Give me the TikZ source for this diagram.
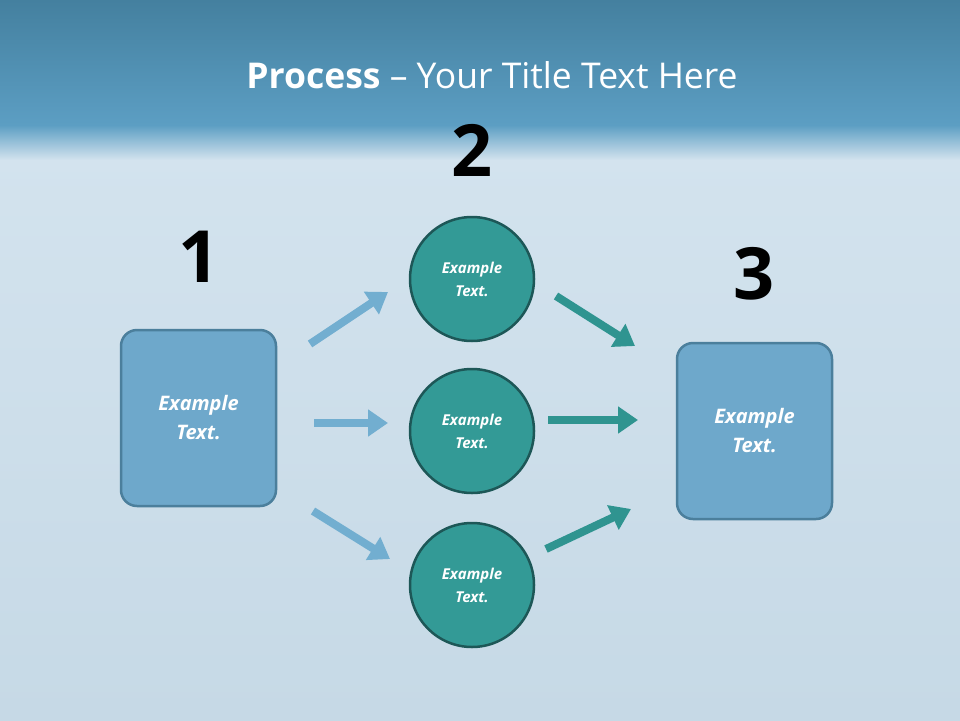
\documentclass[tikz,border=0pt]{standalone}
\usepackage{fontspec}
\setmainfont{Open Sans}
\usetikzlibrary{arrows.meta}
\definecolor{topa}{HTML}{44809F}
\definecolor{topb}{HTML}{5C9EC3}
\definecolor{bga}{HTML}{D3E3EE}
\definecolor{bgb}{HTML}{C6D9E6}
\definecolor{boxf}{HTML}{6EA8CB}
\definecolor{boxd}{HTML}{4B7F9C}
\definecolor{circf}{HTML}{339A96}
\definecolor{circd}{HTML}{1D5757}
\definecolor{arl}{HTML}{72AED0}
\definecolor{art}{HTML}{2F9490}
\tikzset{
 sq/.style={draw=boxd,line width=2.5pt,fill=boxf,rounded corners=16pt,minimum width=155pt,minimum height=176pt,text=white,align=center,font=\fontsize{20}{29}\selectfont\bfseries\itshape},
 circ/.style={circle,draw=circd,line width=2.5pt,fill=circf,minimum size=124pt,text=white,align=center,font=\fontsize{15}{23}\selectfont\bfseries\itshape},
 num/.style={font=\fontsize{72}{72}\selectfont\bfseries,text=black},
 ar/.style={line width=8pt,-{Triangle[length=20pt,width=26pt]}},
}
\begin{document}
\begin{tikzpicture}[x=1pt,y=-1pt]
\useasboundingbox (0,0) rectangle (960,720);
\fill[bga] (0,0) rectangle (960,720);
\shade[top color=bga,bottom color=bgb] (0,150) rectangle (960,720);
\shade[top color=topa,bottom color=topb] (0,0) rectangle (960,125);
\shade[top color=topb,bottom color=bga] (0,125) rectangle (960,160);
\node[text=white,font=\fontsize{35.5}{40}\selectfont] (title) at (492,75) {\textbf{Process} – Your Title Text Here};
\node[num] (n2) at (472,150) {2};
\node[num] (n1) at (199,257) {1};
\node[num] (n3) at (754,274) {3};
\node[sq] (b1) at (198.5,418) {Example\\Text.};
\node[sq] (b3) at (754.5,431) {Example\\Text.};
\node[circ] (c1) at (472,279) {Example\\Text.};
\node[circ] (c2) at (472,431) {Example\\Text.};
\node[circ] (c3) at (472,585) {Example\\Text.};
\coordinate (a1s) at (310,344); \coordinate (a1e) at (388,292);
\coordinate (a2s) at (314,423); \coordinate (a2e) at (388,423);
\coordinate (a3s) at (313,511); \coordinate (a3e) at (390,559);
\coordinate (a4s) at (556,296); \coordinate (a4e) at (635,346);
\coordinate (a5s) at (548,420); \coordinate (a5e) at (638,420);
\coordinate (a6s) at (546,549); \coordinate (a6e) at (631,509);
\draw[ar,arl] (a1s) -- (a1e);
\draw[ar,arl] (a2s) -- (a2e);
\draw[ar,arl] (a3s) -- (a3e);
\draw[ar,art] (a4s) -- (a4e);
\draw[ar,art] (a5s) -- (a5e);
\draw[ar,art] (a6s) -- (a6e);
\end{tikzpicture}
\end{document}
